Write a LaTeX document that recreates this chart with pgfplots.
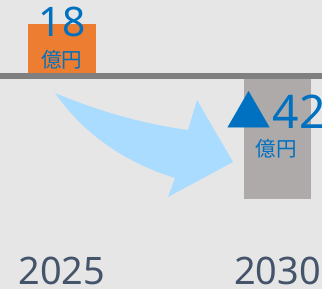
\documentclass[border=0pt]{standalone}
\usepackage{pgfplots}
\pgfplotsset{compat=1.18}
\usepackage{fontspec}
\setmainfont{Noto Sans}
\newfontfamily\cjk{Noto Sans CJK JP}
\definecolor{bgc}{RGB}{231,230,230}
\definecolor{barorange}{HTML}{ED7D31}
\definecolor{bargray}{HTML}{AEAAAA}
\definecolor{linegray}{HTML}{7F7F7F}
\definecolor{txtblue}{HTML}{0070C0}
\definecolor{arrowblue}{RGB}{170,220,255}
\definecolor{yeartxt}{HTML}{44546A}
\begin{document}
\begin{tikzpicture}
\begin{axis}[
  scale only axis,
  width=241.5pt, height=216.75pt,
  xmin=0, xmax=322, ymin=-72.77, ymax=26.20,
  axis lines=none,
  axis background/.style={fill=bgc},
  clip=false,
  xtick={62,277.5},
  xticklabels={2025,2030},
  ytick=\empty,
  major tick length=0pt,
  xticklabel style={anchor=base, yshift=3pt, text=yeartxt, font=\fontsize{28.4pt}{30pt}\selectfont},
  hide x axis=false,
]
\addplot[ybar, bar width=68, bar shift=0pt, fill=barorange, draw=none] coordinates {(62,18)};
\addplot[ybar, bar width=67, bar shift=0pt, fill=bargray, draw=none] coordinates {(277.5,-42)};
\addplot[draw=linegray, line width=4.5pt] coordinates {(0,0) (322,0)};
\fill[arrowblue] (axis cs:55,-5.65) .. controls (axis cs:99.7,-12.05) and (axis cs:144,-16.27) .. (axis cs:188,-18.32)
  -- (axis cs:197,-8.05) -- (axis cs:233,-29.28) -- (axis cs:168,-41.27) -- (axis cs:175,-34.76)
  .. controls (axis cs:123.7,-29.28) and (axis cs:83.7,-19.59) .. (axis cs:55,-5.65) -- cycle;
\node[anchor=base, text=txtblue, inner sep=0pt, font=\fontsize{30.5pt}{31pt}\selectfont] at (axis cs:62,13.53) {18};
\node[anchor=center, text=txtblue, inner sep=0pt, font=\cjk\fontsize{15.4pt}{16pt}\selectfont] at (axis cs:62,5.82) {億円};
\node[anchor=base west, text=txtblue, inner sep=0pt, font=\fontsize{34.7pt}{35pt}\selectfont] at (axis cs:226,-17.64) {{\cjk\fontsize{33.8pt}{34pt}\selectfont ▲}\kern1pt 42};
\node[anchor=center, text=txtblue, inner sep=0pt, font=\cjk\fontsize{15.4pt}{16pt}\selectfont] at (axis cs:276.5,-24.66) {億円};
\end{axis}
\pgfresetboundingbox
\useasboundingbox (current axis.south west) rectangle (current axis.north east);
\end{tikzpicture}
\end{document}
